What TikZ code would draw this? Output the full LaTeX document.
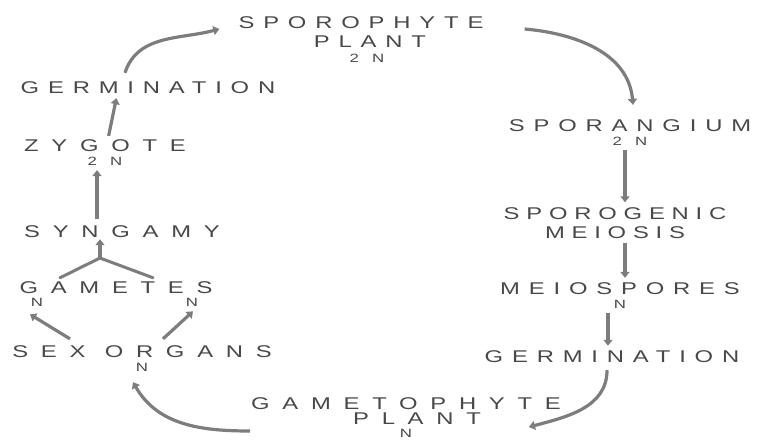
\documentclass[tikz,border=0pt]{standalone}
\usepackage{fontspec}
\usetikzlibrary{calc,positioning,arrows.meta}
\newfontfamily\handfont[LetterSpace=52,FakeStretch=1.4]{Liberation Sans}
\definecolor{inkgray}{RGB}{72,72,72}
\definecolor{leadgray}{RGB}{125,125,125}
\newcommand\ploidy[1]{{\fontsize{12}{14}\selectfont\addfontfeature{LetterSpace=110}#1}}

\begin{document}
\begin{tikzpicture}[x=1pt,y=1pt,
  font=\handfont\fontsize{17}{19}\selectfont,
  stage/.style={text=inkgray,align=center,inner sep=1pt},
  roomy/.style={font=\handfont\fontsize{17}{19}\selectfont\addfontfeature{LetterSpace=75}},
  snug/.style={font=\handfont\fontsize{17}{19}\selectfont\addfontfeature{LetterSpace=40}},
  flow/.style={leadgray,line width=3.2pt,-{Triangle[length=6pt,width=9pt]}},
  fork/.style={leadgray,line width=3pt,line cap=round}]

\useasboundingbox (0,0) rectangle (760,-441);

% sporophyte side
\node[stage] (spo) at (361,-40) {SPOROPHYTE\\\hspace*{18pt}PLANT\\[-4pt]\hspace*{12pt}\ploidy{2N}};
\node[stage] (spg) at (630,-133) {SPORANGIUM\\[-5pt]\ploidy{2N}};
\node[stage,snug] (mei) at (615,-223) {SPOROGENIC\\MEIOSIS};
\node[stage] (msp) at (620,-296) {MEIOSPORES\\[-5pt]\ploidy{N}};
\node[stage] (gerR) at (612,-357) {GERMINATION};
% gametophyte side
\node[stage,roomy] (gph) at (406,-418) {GAMETOPHYTE\\[-4pt]\hspace*{22pt}PLANT\\[-6pt]\ploidy{N}};
\node[stage,roomy] (sex) at (142,-359) {SEX ORGANS\\[-5pt]\ploidy{N}};
\node[stage,roomy] (gam) at (116,-288) {GAMETES};
\node[stage] (gamL) at (37,-302) {\ploidy{N}};
\node[stage] (gamR) at (192,-302) {\ploidy{N}};
\node[stage,roomy] (syn) at (122,-232) {SYNGAMY};
\node[stage,roomy] (zyg) at (105,-153) {ZYGOTE\\[-5pt]\ploidy{2N}};
\node[stage] (gerL) at (148,-88) {GERMINATION};
\coordinate (meet) at (100,-258);

\draw[flow] ($(gerL.north -| 125,0)+(0,8)$) to[out=72,in=195] ($(spo.west |- 0,-29)+(-18,0)$);
\draw[flow] ($(spo.east |- 0,-29)+(40,0)$) to[out=-5,in=95] ($(spg.north -| 633,0)+(0,14)$);
\draw[flow,shorten <=3pt,shorten >=4pt] (spg.south -| 625,0) -- (mei.north -| 625,0);
\draw[flow,shorten <=3pt,shorten >=4pt] (mei.south -| 625,0) -- (msp.north -| 625,0);
\draw[flow,shorten <=3pt,shorten >=4pt] (msp.south -| 608,0) -- (gerR.north -| 608,0);
\draw[flow] ($(gerR.south -| 607,0)+(0,-6)$) to[out=-90,in=15] ($(gph.east |- 0,-427)+(-33,0)$);
\draw[flow] (gph.west |- 0,-431) to[out=180,in=-60] ($(sex.south -| 133,0)+(0,-9)$);
\draw[flow] ($(sex.north -| 70,0)+(0,6)$) -- ($(gamL.south)+(-7,-7)$);
\draw[flow] ($(sex.north -| 163,0)+(0,6)$) -- ($(gamR.south)+(1,-4)$);
\draw[fork] ($(gam.north -| 60,0)+(0,3)$) -- (meet);
\draw[fork] ($(gam.north -| 153,0)+(0,3)$) -- (meet);
\draw[flow] (meet) -- (syn.south -| meet);
\draw[flow,shorten <=6pt,shorten >=3pt] (syn.north -| 97,0) -- (zyg.south -| 97,0);
\draw[flow,shorten <=3pt,shorten >=3pt] (zyg.north -| 108,0) -- (gerL.south -| 117,0);
\end{tikzpicture}
\end{document}
